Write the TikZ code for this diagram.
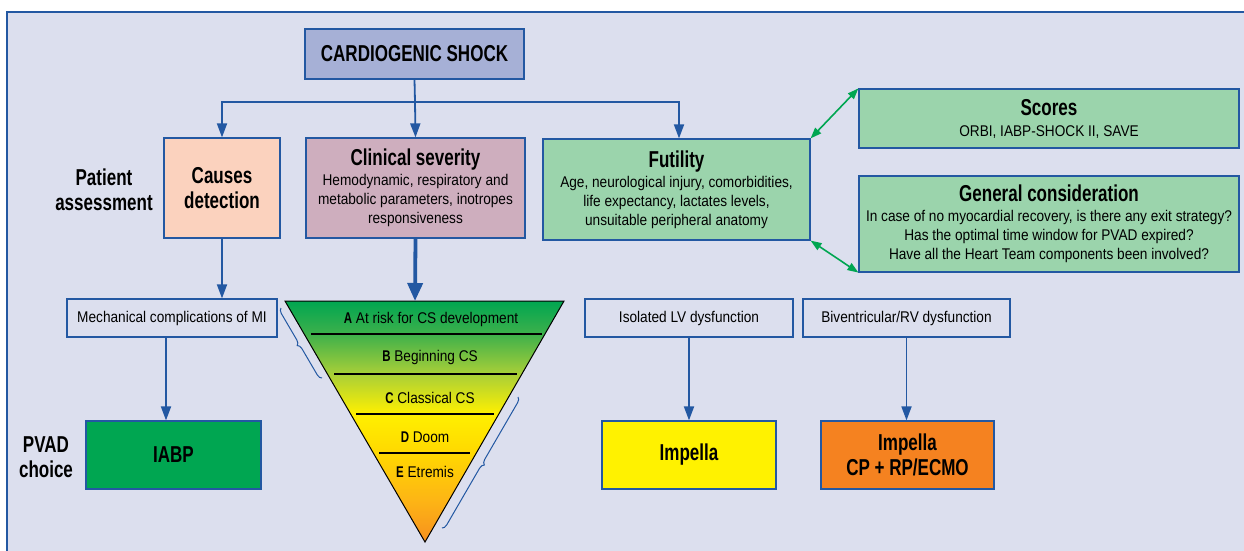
\documentclass[tikz,border=0pt]{standalone}
\usepackage{fontspec}
\setmainfont{Liberation Sans}[FakeStretch=0.88,BoldFeatures={FakeStretch=0.74}]
\usetikzlibrary{arrows.meta,decorations.pathreplacing}
\definecolor{bg}{HTML}{DCDFEE}
\definecolor{bblue}{HTML}{2358A2}
\definecolor{csfill}{HTML}{A6B0D6}
\definecolor{peach}{HTML}{FBD2BE}
\definecolor{mauve}{HTML}{CEAEBE}
\definecolor{lgreen}{HTML}{9BD4AC}
\definecolor{dgreen}{HTML}{00A651}
\definecolor{yel}{HTML}{FFF200}
\definecolor{orng}{HTML}{F58220}
\definecolor{cG}{HTML}{00A651}
\definecolor{cG2}{HTML}{3DB04B}
\definecolor{cYG}{HTML}{A8CF38}
\definecolor{cYe}{HTML}{FFF000}
\definecolor{cYe2}{HTML}{FFD800}
\definecolor{cOr2}{HTML}{FDB515}
\definecolor{cOr}{HTML}{F7901E}
\pgfdeclareverticalshading{trishade}{100bp}{color(0bp)=(cOr); color(25bp)=(cOr); color(33.7bp)=(cOr2); color(43.5bp)=(cYe2); color(51.6bp)=(cYe); color(59.9bp)=(cYG); color(68.2bp)=(cG2); color(75bp)=(cG); color(100bp)=(cG)}
\newcommand{\hdf}{\fontsize{23}{25}\selectfont\bfseries}
\newcommand{\bdf}{\fontsize{15.5}{19}\selectfont}
\begin{document}
\begin{tikzpicture}[x=1pt,y=-1pt,
  box/.style={draw=bblue, line width=1.2pt, inner sep=0pt, align=center, font=\bdf},
  arr/.style={draw=bblue, line width=1.8pt, -{Triangle[length=14pt,width=10pt]}},
  garr/.style={draw=dgreen, line width=1.6pt, {Triangle[length=11pt,width=8pt]}-{Triangle[length=11pt,width=8pt]}},
  lab/.style={inner sep=0pt, align=center, font=\hdf},
  tl/.style={inner sep=0pt, font=\bdf},
  brc/.style={draw=bblue, line width=1pt, decorate, decoration={brace, amplitude=5pt}}]
\path[use as bounding box] (0,0) rectangle (1244,550);
\clip (0,0) rectangle (1244,550);
\fill[white] (0,0) rectangle (1244,550);
\draw[draw=bblue, line width=1.4pt, fill=bg] (7,12) rectangle (1262,570);

% top row
\node[box, fill=csfill, minimum width=219pt, minimum height=50pt, font=\hdf] (cs) at (414.5,54) {CARDIOGENIC SHOCK};
\node[box, fill=peach, minimum width=116pt, minimum height=100pt, font=\hdf] (causes) at (222,188) {Causes\\detection};
\node[box, fill=mauve, minimum width=219pt, minimum height=100pt] (clin) at (415.5,188) {{\hdf Clinical severity}\\[1pt]Hemodynamic, respiratory and\\metabolic parameters, inotropes\\responsiveness};
\node[box, fill=lgreen, minimum width=267pt, minimum height=101pt] (fut) at (676.5,189.5) {{\hdf Futility}\\[1pt]Age, neurological injury, comorbidities,\\life expectancy, lactates levels,\\unsuitable peripheral anatomy};
\node[box, fill=lgreen, minimum width=380pt, minimum height=59pt] (scores) at (1049,118.5) {{\hdf Scores}\\[2pt]ORBI, IABP-SHOCK II, SAVE};
\node[box, fill=lgreen, minimum width=380pt, minimum height=96pt] (gen) at (1049,224) {{\hdf General consideration}\\[1pt]In case of no myocardial recovery, is there any exit strategy?\\Has the optimal time window for PVAD expired?\\Have all the Heart Team components been involved?};
\node[lab] (pa) at (104,190) {Patient\\assessment};

% connectors from CS
\coordinate (hub) at (415,102);
\draw[draw=bblue, line width=1.8pt] (cs.south) -- (hub);
\draw[arr] (hub) -| (causes.north);
\draw[arr] (hub) -- (clin.north);
\draw[arr] (hub) -| ([xshift=2.5pt]fut.north);
\draw[garr] (fut.north east) -- (scores.north west);
\draw[garr] (fut.south east) -- (gen.south west);

% second row boxes
\node[box, fill=bg, minimum width=210pt, minimum height=38pt] (mech) at (172,318) {Mechanical complications of MI};
\node[box, fill=bg, minimum width=208pt, minimum height=38pt] (iso) at (689,318) {Isolated LV dysfunction};
\node[box, fill=bg, minimum width=207pt, minimum height=38pt] (biv) at (906.5,318) {Biventricular/RV dysfunction};

% PVAD row
\node[box, fill=dgreen, minimum width=175pt, minimum height=68pt, font=\hdf] (iabp) at (173.5,455) {IABP};
\node[box, fill=yel, minimum width=174pt, minimum height=68pt, font=\hdf] (imp) at (689,455) {Impella};
\node[box, fill=orng, minimum width=173pt, minimum height=68pt, font=\hdf] (impcp) at (907.5,455) {Impella\\CP + RP/ECMO};
\node[lab] (pvad) at (46,457) {PVAD\\choice};

\draw[arr] (causes.south) -- (causes.south |- mech.north);
\draw[arr] ([xshift=-6pt]mech.south) -- ([xshift=-6pt]mech.south |- iabp.north);
\draw[arr] (iso.south) -- (imp.north);
\draw[arr] (biv.south) -- (biv.south |- impcp.north);

% triangle
\coordinate (tA) at (285,301);
\coordinate (tB) at (564,301);
\coordinate (tC) at (425,542);
\shade[shading=trishade] (tA) -- (tB) -- (tC) -- cycle;
\draw[black, line width=1pt, line join=miter] (tA) -- (tB) -- (tC) -- cycle;
\draw[black, line width=1.4pt] (311,334) -- (542,334);
\draw[black, line width=1.4pt] (334,374) -- (517,374);
\draw[black, line width=1.4pt] (356,414) -- (494,414);
\draw[black, line width=1.4pt] (379,453) -- (470,453);
\node[tl] (la) at (431,319) {\textbf{A} At risk for CS development};
\node[tl] (lb) at (430,357) {\textbf{B} Beginning CS};
\node[tl] (lc) at (430,398) {\textbf{C} Classical CS};
\node[tl] (ld) at (425,437) {\textbf{D} Doom};
\node[tl] (le) at (425,472) {\textbf{E} Etremis};
\coordinate (ttop) at (415,301);
\draw[draw=bblue, line width=3.8pt, -{Triangle[length=18pt,width=15pt]}] (clin.south) -- (ttop);

% braces
\draw[brc] (322,378) -- (281,308);
\draw[brc] (518,397) -- (442,528);
\end{tikzpicture}
\end{document}
